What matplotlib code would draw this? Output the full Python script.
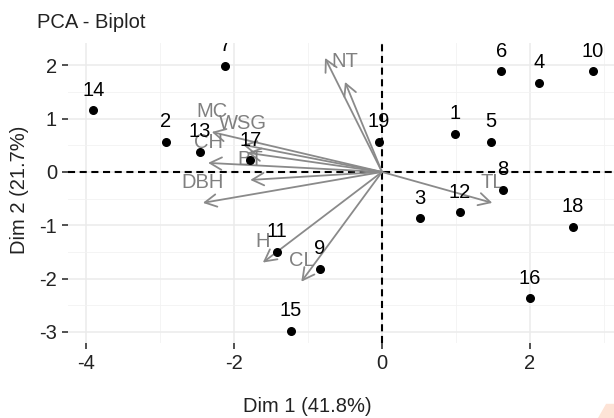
import numpy as np
import matplotlib
matplotlib.use('Agg')
from matplotlib import pyplot as plt
from matplotlib.patches import FancyArrowPatch, Polygon

plt.rcParams['font.family'] = ['Liberation Sans', 'DejaVu Sans']
plt.rcParams['axes.unicode_minus'] = False

# individuals (scores on Dim 1 / Dim 2)
ind_labels = ['1', '2', '3', '4', '5', '6', '7', '8', '9', '10',
              '11', '12', '13', '14', '15', '16', '17', '18', '19']
ind_x = [0.99, -2.92, 0.51, 2.12, 1.47, 1.61, -2.12, 1.63, -0.84, 2.85,
         -1.42, 1.05, -2.46, -3.90, -1.23, 2.00, -1.78, 2.58, -0.04]
ind_y = [0.71, 0.56, -0.87, 1.67, 0.56, 1.89, 1.99, -0.34, -1.82, 1.89,
         -1.50, -0.76, 0.38, 1.16, -2.98, -2.37, 0.22, -1.03, 0.56]

# variables (arrow tips)
var_labels = ['MC', 'WSG', '', 'CH', 'BT', 'DBH', 'NS', 'NT', 'H', 'CL', 'TL']
var_x = [-2.30, -1.88, -1.82, -2.35, -1.78, -2.42, -0.77, -0.50, -1.61, -1.09, 1.49]
var_y = [0.75, 0.51, 0.36, 0.17, -0.15, -0.58, 2.14, 1.69, -1.70, -2.06, -0.58]

title = 'PCA - Biplot'
xlab = 'Dim 1 (41.8%)'
ylab = 'Dim 2 (21.7%)'

FS = 14.5

W, H = 614, 418
fig = plt.figure(figsize=(W / 100, H / 100), dpi=100)
ax = fig.add_axes([68 / W, (H - 343) / H, (W - 68) / W, 300 / H])

ax.set_xlim(-4.243, 3.135)
ax.set_ylim(-3.21, 2.42)

# grid like theme_minimal
for v in [-4, -2, 0, 2]:
    ax.axvline(v, color='#ebebeb', lw=1.1, zorder=0)
for v in [-3, -1, 1, 3]:
    ax.axvline(v, color='#f2f2f2', lw=0.6, zorder=0)
for v in [-3, -2, -1, 0, 1, 2]:
    ax.axhline(v, color='#ebebeb', lw=1.1, zorder=0)
for v in [-2.5, -1.5, -0.5, 0.5, 1.5]:
    ax.axhline(v, color='#f2f2f2', lw=0.6, zorder=0)

ax.axhline(0, color='black', lw=1.5, ls=(0, (3.4, 2.2)), zorder=2)
ax.axvline(0, color='black', lw=1.5, ls=(0, (3.4, 2.2)), zorder=2)

for s in ax.spines.values():
    s.set_visible(False)

ax.set_xticks([-4, -2, 0, 2])
ax.set_yticks([-3, -2, -1, 0, 1, 2])
ax.tick_params(axis='both', direction='out', length=4.5, width=1.2,
               color='#333333', labelsize=FS, labelcolor='#222222', pad=3.5)

# arrows
for lab, x, y in zip(var_labels, var_x, var_y):
    arr = FancyArrowPatch((0, 0), (x, y), arrowstyle='->,head_length=0.6,head_width=0.32',
                          mutation_scale=14, color='#8a8a8a', lw=1.3, zorder=3,
                          shrinkA=0, shrinkB=0)
    ax.add_patch(arr)
    if lab:
        ax.annotate(lab, (x, y), xytext=(0, 15), textcoords='offset points',
                    ha='center', va='center', fontsize=FS, color='#808080',
                    zorder=4, annotation_clip=False, clip_on=True)

# individuals
ax.scatter(ind_x, ind_y, s=30, color='black', zorder=5)
for lab, x, y in zip(ind_labels, ind_x, ind_y):
    ax.annotate(lab, (x, y), xytext=(0, 14.5), textcoords='offset points',
                ha='center', va='center', fontsize=FS, color='black',
                zorder=6, annotation_clip=False, clip_on=True)

ax.set_xlabel(xlab, fontsize=FS, color='#222222')
ax.set_ylabel(ylab, fontsize=FS, color='#222222')
ax.xaxis.set_label_coords((307 - 68) / 546, (343 - 407) / 300)
ax.yaxis.set_label_coords((20 - 68) / 546, (343 - 190) / 300)
ax.xaxis.label.set_va('center')
ax.yaxis.label.set_va('center')

fig.text(37 / W, 1 - 22 / H, title, fontsize=FS, color='#222222', va='center', ha='left')

# corner watermark fragment
fig.patches.append(Polygon([[598 / W, 0], [614 / W, 0], [614 / W, 14 / H], [606 / W, 14 / H]],
                           closed=True, transform=fig.transFigure, color='#fde3d6', zorder=0))

fig.savefig('out.png', dpi=100)
